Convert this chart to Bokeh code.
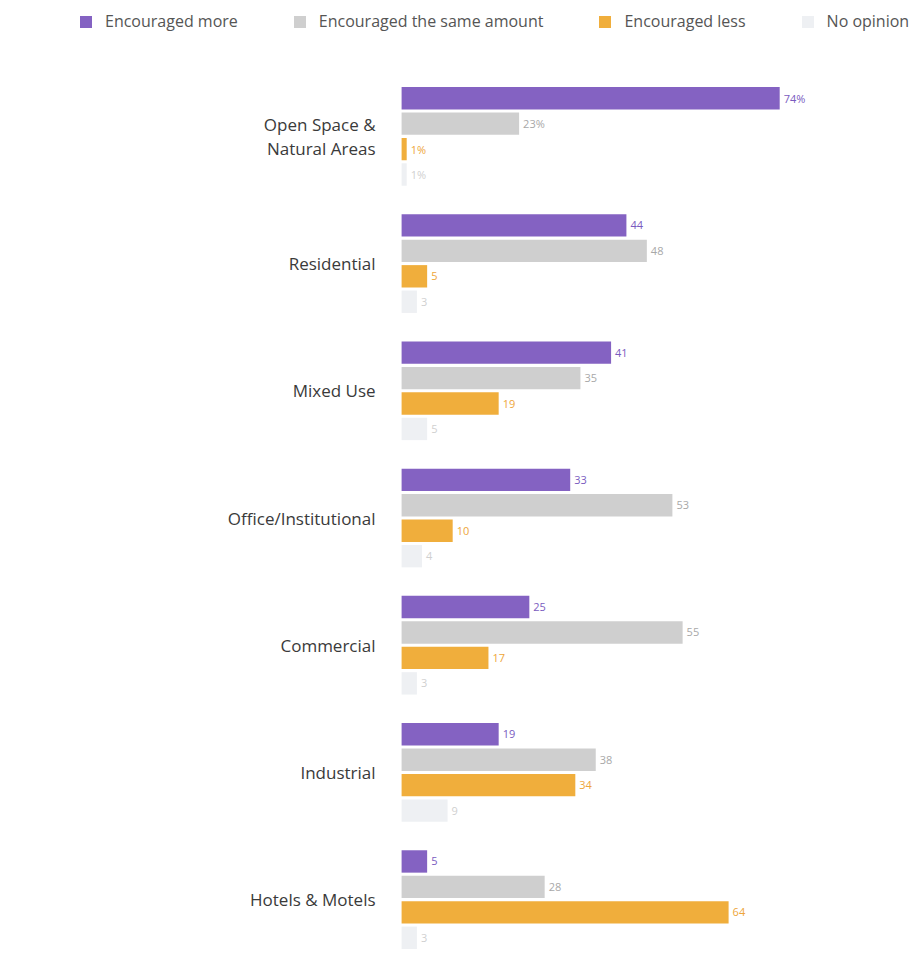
from bokeh.plotting import figure
from bokeh.layouts import column
from bokeh.models import FactorRange, Range1d, ColumnDataSource, Legend, LegendItem
from bokeh.core.properties import value
from bokeh.embed import file_html
from bokeh.resources import INLINE

categories = ["Open Space &\nNatural Areas", "Residential", "Mixed Use",
              "Office/Institutional", "Commercial", "Industrial", "Hotels & Motels"]
series = ["Encouraged more", "Encouraged the same amount", "Encouraged less", "No opinion"]
encouraged_more = [74, 44, 41, 33, 25, 19, 5]
encouraged_same = [23, 48, 35, 53, 55, 38, 28]
encouraged_less = [1, 5, 19, 10, 17, 34, 64]
no_opinion = [1, 3, 5, 4, 3, 9, 3]
values = [encouraged_more, encouraged_same, encouraged_less, no_opinion]
bar_colors = ["#8462c2", "#cfcfcf", "#f0ae3c", "#eef0f3"]
label_colors = ["#7a5bbf", "#a8a8a8", "#eea63a", "#d0d0d0"]

FONT = "Open Sans"
FIG_W = 910
LEG_H = 40
MAIN_H = 910
TOP = 45


def clean(fig):
    fig.outline_line_color = None
    fig.xgrid.visible = False
    fig.ygrid.visible = False
    fig.xaxis.visible = False
    fig.yaxis.visible = False
    fig.background_fill_color = "white"
    fig.border_fill_color = "white"


# ---- legend strip (hidden copies of the series supply the swatches) ----
pl = figure(width=FIG_W, height=LEG_H, x_range=Range1d(0, 100),
            y_range=FactorRange(*categories),
            output_backend="svg", toolbar_location=None,
            min_border_left=0, min_border_right=0, min_border_top=0, min_border_bottom=0)
clean(pl)
leg_items = []
for si, s in enumerate(series):
    rr = pl.hbar(y=categories, left=0, right=values[si], height=0.5,
                 fill_color=bar_colors[si], line_color=None, visible=False)
    leg_items.append(LegendItem(label=s, renderers=[rr]))
legend = Legend(items=leg_items, orientation="horizontal", location=(78, 8),
                glyph_width=15, glyph_height=15, label_standoff=12, spacing=54,
                label_text_font=FONT, label_text_font_size="16px",
                label_text_color="#555555", border_line_color=None,
                background_fill_alpha=0, inactive_fill_alpha=0,
                padding=0, margin=0)
pl.add_layout(legend, "center")

# ---- main chart ----
# FactorRange maps first factor to the bottom, so list them bottom-up
factors = [(c, s) for c in reversed(categories) for s in reversed(series)]
y_range = FactorRange(*factors, group_padding=1.0, range_padding=0.0)

p = figure(width=FIG_W, height=MAIN_H, y_range=y_range, x_range=Range1d(-78.5, 99.6),
           output_backend="svg", toolbar_location=None,
           min_border_left=0, min_border_right=0, min_border_top=TOP, min_border_bottom=0)
clean(p)

for si, s in enumerate(series):
    ys = [(c, s) for c in categories]
    vals = values[si]
    labels = [f"{v}%" if ci == 0 else f"{v}" for ci, v in enumerate(vals)]
    src = ColumnDataSource(dict(y=ys, x=vals, lab=labels))
    p.hbar(y="y", left=0, right="x", height=0.88, source=src,
           fill_color=bar_colors[si], line_color=None)
    p.text(x="x", y="y", text="lab", source=src, x_offset=4,
           text_baseline="middle", text_align="left", text_font=value(FONT),
           text_font_size="11px", text_color=label_colors[si])

cat_src = ColumnDataSource(dict(y=categories, x=[-5.1] * len(categories), t=categories))
p.text(x="x", y="y", text="t", source=cat_src, text_align="right",
       text_baseline="middle", text_font=value(FONT), text_font_size="17px",
       text_color="#3a3a3a", text_line_height=1.05)

layout = column(pl, p, spacing=0)
open("out.html", "w").write(file_html(layout, INLINE))
